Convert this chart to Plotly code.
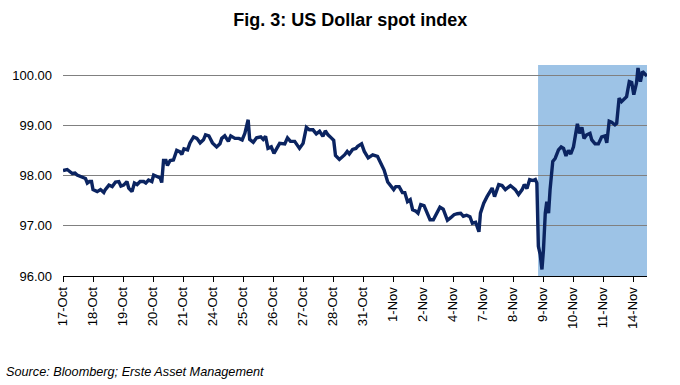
import plotly.graph_objects as go

# Trading-day labels (tick at start of each day)
day_labels = ["17-Oct", "18-Oct", "19-Oct", "20-Oct", "21-Oct", "24-Oct", "25-Oct",
              "26-Oct", "27-Oct", "28-Oct", "31-Oct", "1-Nov", "2-Nov", "4-Nov",
              "7-Nov", "8-Nov", "9-Nov", "10-Nov", "11-Nov", "14-Nov"]

# Time in trading days since 17-Oct open
t = [0.00, 0.14, 0.31, 0.40, 0.47, 0.64, 0.75, 0.81, 0.88, 0.95,
     1.00, 1.14, 1.25, 1.36, 1.41, 1.53, 1.64, 1.75, 1.86, 1.93,
     2.02, 2.13, 2.19, 2.30, 2.38, 2.47, 2.57, 2.69, 2.76, 2.85,
     2.96, 3.02, 3.13, 3.24, 3.29, 3.35, 3.43, 3.48, 3.57, 3.68,
     3.79, 3.90, 3.96, 4.03, 4.15, 4.23, 4.35, 4.46, 4.57, 4.68,
     4.75, 4.86, 4.98, 5.12, 5.23, 5.29, 5.39, 5.51, 5.59, 5.73,
     5.86, 5.97, 6.06, 6.17, 6.22, 6.34, 6.45, 6.59, 6.67, 6.75,
     6.83, 6.94, 7.03, 7.11, 7.22, 7.39, 7.48, 7.58, 7.72, 7.88,
     8.00, 8.11, 8.21, 8.33, 8.44, 8.55, 8.66, 8.74, 8.83, 8.94,
     9.02, 9.08, 9.16, 9.21, 9.38, 9.47, 9.54, 9.65, 9.76, 9.82,
     9.95, 10.04, 10.17, 10.32, 10.48, 10.59, 10.70, 10.82, 10.93, 11.02,
     11.09, 11.20, 11.31, 11.39, 11.48, 11.57, 11.65, 11.76, 11.83, 11.92,
     12.03, 12.14, 12.23, 12.34, 12.45, 12.56, 12.67, 12.81, 12.92, 13.03,
     13.14, 13.25, 13.34, 13.45, 13.56, 13.64, 13.75, 13.86, 13.91, 14.02,
     14.13, 14.24, 14.30, 14.38, 14.52, 14.63, 14.74, 14.91, 15.07, 15.18,
     15.30, 15.37, 15.46, 15.55, 15.66, 15.74, 15.79, 15.84, 15.90, 15.96,
     16.01, 16.07, 16.12, 16.18, 16.23, 16.32, 16.40, 16.51, 16.60, 16.68,
     16.76, 16.84, 16.92, 17.01, 17.09, 17.14, 17.21, 17.29, 17.36, 17.45,
     17.56, 17.62, 17.73, 17.84, 17.95, 18.06, 18.12, 18.20, 18.28, 18.39,
     18.45, 18.53, 18.61, 18.69, 18.78, 18.87, 18.95, 19.02, 19.11, 19.16,
     19.24, 19.31, 19.39, 19.46]

dxy = [98.10, 98.12, 98.04, 98.05, 98.01, 97.97, 97.94, 97.85, 97.88, 97.88,
       97.72, 97.68, 97.72, 97.66, 97.72, 97.81, 97.78, 97.87, 97.88, 97.79,
       97.81, 97.88, 97.75, 97.68, 97.85, 97.82, 97.88, 97.88, 97.85, 97.91,
       97.88, 98.01, 97.98, 97.95, 97.86, 98.30, 98.30, 98.20, 98.30, 98.31,
       98.50, 98.47, 98.42, 98.53, 98.51, 98.65, 98.77, 98.74, 98.65, 98.71,
       98.81, 98.79, 98.65, 98.57, 98.63, 98.74, 98.79, 98.68, 98.79, 98.74,
       98.74, 98.71, 98.84, 99.11, 98.72, 98.66, 98.75, 98.77, 98.72, 98.78,
       98.54, 98.57, 98.44, 98.54, 98.64, 98.63, 98.75, 98.68, 98.68, 98.54,
       98.64, 98.96, 98.91, 98.91, 98.83, 98.88, 98.78, 98.89, 98.81, 98.75,
       98.70, 98.40, 98.34, 98.32, 98.41, 98.48, 98.43, 98.52, 98.54, 98.58,
       98.63, 98.48, 98.35, 98.41, 98.38, 98.24, 98.11, 97.87, 97.78, 97.72,
       97.78, 97.78, 97.66, 97.66, 97.48, 97.52, 97.32, 97.29, 97.25, 97.42,
       97.40, 97.26, 97.12, 97.12, 97.26, 97.37, 97.33, 97.11, 97.16, 97.22,
       97.24, 97.25, 97.19, 97.21, 97.18, 97.05, 97.07, 96.88, 97.25, 97.45,
       97.58, 97.68, 97.75, 97.58, 97.82, 97.80, 97.72, 97.80, 97.72, 97.62,
       97.72, 97.82, 97.74, 97.92, 97.90, 97.92, 97.85, 96.59, 96.43, 96.13,
       96.52, 97.25, 97.48, 97.25, 97.72, 98.28, 98.34, 98.51, 98.57, 98.54,
       98.39, 98.50, 98.43, 98.57, 98.84, 99.03, 98.84, 98.96, 98.74, 98.81,
       98.84, 98.71, 98.63, 98.63, 98.77, 98.79, 98.65, 99.08, 99.06, 99.01,
       99.04, 99.54, 99.47, 99.52, 99.57, 99.87, 99.85, 99.61, 99.84, 100.14,
       99.87, 100.07, 100.02, 99.98]

y_ticks = [96, 97, 98, 99, 100]
shade_start = 15.83   # post-election period (9-Nov)
x_end = 19.46
y_min, y_max = 96.0, 100.2

fig = go.Figure()
fig.add_trace(go.Scatter(x=t, y=dxy, mode="lines",
                         line=dict(color="#0B2461", width=3.4),
                         hoverinfo="skip", showlegend=False))

fig.add_shape(type="rect", xref="x", yref="y", x0=shade_start, x1=x_end,
              y0=y_min, y1=y_max, fillcolor="#9DC3E6", line=dict(width=0),
              layer="below")

fig.update_layout(
    width=680, height=385,
    margin=dict(l=61, r=33, t=65, b=109),
    paper_bgcolor="white", plot_bgcolor="white",
    font=dict(family="Liberation Sans, Arial, sans-serif", size=13, color="black"),
    title=dict(text="<b>Fig. 3: US Dollar spot index</b>", x=0.515, xanchor="center",
               y=0.948, yanchor="middle", font=dict(size=18, color="black")),
    xaxis=dict(range=[0, x_end], tickmode="array",
               tickvals=list(range(len(day_labels))), ticktext=day_labels,
               tickangle=-90, showgrid=False, showline=True, linecolor="black",
               linewidth=1, ticks="outside", ticklen=5, tickcolor="black",
               zeroline=False, tickfont=dict(size=13)),
    yaxis=dict(range=[y_min, y_max], tickmode="array", tickvals=y_ticks,
               ticktext=[f"{v:.2f}" for v in y_ticks], showgrid=True,
               gridcolor="#808080", gridwidth=1, showline=False, zeroline=False,
               ticks="", ticklabelstandoff=10, tickfont=dict(size=13)),
)

fig.add_annotation(text="<i>Source: Bloomberg; Erste Asset Management</i>",
                   xref="paper", yref="paper", x=-59/586, y=-96/211,
                   xanchor="left", yanchor="middle", showarrow=False,
                   font=dict(size=12.7, color="black"))

fig.write_html("out.html")
